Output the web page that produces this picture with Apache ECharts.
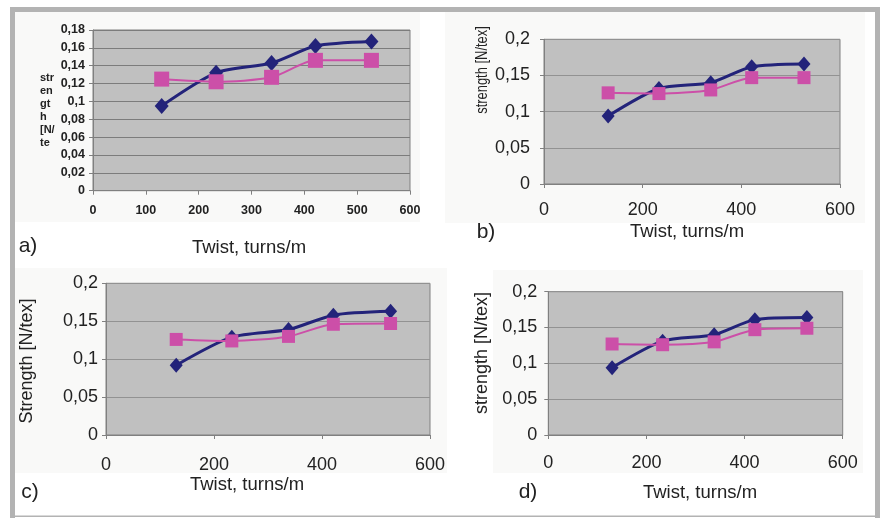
<!DOCTYPE html>
<html>
<head>
<meta charset="utf-8">
<script src="https://cdn.jsdelivr.net/npm/echarts@6/dist/echarts.min.js"></script>
<style>html,body{margin:0;padding:0;background:#fff}#c{width:883px;height:518px}</style>
</head>
<body>
<div id="c"></div>
<script>
// Twist values (turns/m)
const twist = [130, 233, 338, 421, 527];
// Panel a
const aBlue = [0.095, 0.132, 0.143, 0.162, 0.167];
const aPink = [0.125, 0.122, 0.127, 0.146, 0.146];
// Panel b
const bBlue = [0.094, 0.132, 0.140, 0.162, 0.166];
const bPink = [0.126, 0.125, 0.130, 0.147, 0.147];
// Panel c
const cBlue = [0.092, 0.129, 0.139, 0.158, 0.163];
const cPink = [0.126, 0.124, 0.130, 0.146, 0.147];
// Panel d
const dBlue = [0.094, 0.131, 0.140, 0.161, 0.164];
const dPink = [0.127, 0.126, 0.130, 0.147, 0.149];

const panelLetters = ['a)', 'b)', 'c)', 'd)'];
const xName = 'Twist, turns/m';
const yNames = ['str\nen\ngt\nh\n[N/\nte', 'strength [N/tex]', 'Strength [N/tex]', 'strength [N/tex]'];

const FONT = '"Liberation Sans", Arial, Helvetica, sans-serif';
const BLUE = '#23237a';
const PINK = '#cc4fa8';
const fmt = v => v === 0 ? '0' : String(+v.toFixed(2)).replace('.', ',');
const pairs = arr => twist.map((x, i) => [x, arr[i]]);

const grids = [
  {left: 93, top: 30, width: 317, height: 160.7},
  {left: 544, top: 39.3, width: 296, height: 144.7},
  {left: 106, top: 283.3, width: 324, height: 151.7},
  {left: 548.3, top: 291.7, width: 294.4, height: 143.3}
].map(g => Object.assign({show: true, backgroundColor: '#c0c0c0', borderColor: '#808080', borderWidth: 1}, g));

const small = [true, false, false, false];
const yMax = [0.18, 0.2, 0.2, 0.2];
const yInt = [0.02, 0.05, 0.05, 0.05];
const xInt = [100, 200, 200, 200];
const xMargin = [13, 17, 21, 19];
const yMargin = [8, 14, 8, 11];

const xAxis = grids.map((g, i) => ({
  type: 'value', gridIndex: i, min: 0, max: 600, interval: xInt[i],
  axisLine: {show: true, lineStyle: {color: '#808080'}},
  axisTick: {show: true, length: 4, lineStyle: {color: '#808080'}},
  splitLine: {show: false},
  axisLabel: {color: '#222', fontFamily: FONT, fontSize: small[i] ? 12.5 : 18, fontWeight: small[i] ? 'bold' : 'normal', margin: xMargin[i]}
}));
const yAxis = grids.map((g, i) => ({
  type: 'value', gridIndex: i, min: 0, max: yMax[i], interval: yInt[i],
  axisLine: {show: true, lineStyle: {color: '#808080'}},
  axisTick: {show: true, length: 4, lineStyle: {color: '#808080'}},
  splitLine: {show: true, lineStyle: {color: small[i] ? '#7c7c7c' : '#929292', width: 1}},
  axisLabel: {color: '#222', fontFamily: FONT, fontSize: small[i] ? 12.5 : 18, fontWeight: small[i] ? 'bold' : 'normal', margin: yMargin[i], formatter: fmt}
}));

const blues = [aBlue, bBlue, cBlue, dBlue];
const pinks = [aPink, bPink, cPink, dPink];
const series = [];
for (let i = 0; i < 4; i++) {
  series.push({
    type: 'line', xAxisIndex: i, yAxisIndex: i, data: pairs(blues[i]),
    smooth: 0.25, symbol: 'diamond', symbolSize: small[i] ? [14, 16] : [13, 15],
    lineStyle: {color: BLUE, width: 3}, itemStyle: {color: BLUE}, z: 3, animation: false
  });
  series.push({
    type: 'line', xAxisIndex: i, yAxisIndex: i, data: pairs(pinks[i]),
    smooth: 0.25, symbol: 'rect', symbolSize: small[i] ? 15 : 13,
    lineStyle: {color: PINK, width: 2}, itemStyle: {color: PINK}, z: 4, animation: false
  });
}

const FRAME = '#b3b3b3';
const BG = '#f9f9f8';
const txt = (text, x, y, size, opts) => Object.assign({
  type: 'text', x: x, y: y, z: 50,
  style: {text: text, fontSize: size, fontFamily: FONT, fill: '#222', align: 'center', verticalAlign: 'middle'}
}, opts || {});

const graphic = [
  // chart-area backgrounds
  {type: 'rect', z: -100, shape: {x: 15, y: 12, width: 405, height: 210}, style: {fill: BG}},
  {type: 'rect', z: -100, shape: {x: 445, y: 12, width: 420, height: 211}, style: {fill: BG}},
  {type: 'rect', z: -100, shape: {x: 15, y: 268, width: 432, height: 205}, style: {fill: BG}},
  {type: 'rect', z: -100, shape: {x: 493, y: 270, width: 370, height: 203}, style: {fill: BG}},
  // frame
  {type: 'rect', z: 60, shape: {x: 10, y: 7, width: 870, height: 5}, style: {fill: FRAME}},
  {type: 'rect', z: 60, shape: {x: 10, y: 7, width: 5, height: 511}, style: {fill: FRAME}},
  {type: 'rect', z: 60, shape: {x: 875, y: 7, width: 5, height: 511}, style: {fill: FRAME}},
  {type: 'rect', z: 60, shape: {x: 10, y: 515.5, width: 870, height: 1.5}, style: {fill: FRAME}},
  // panel letters
  txt(panelLetters[0], 28, 246, 21),
  txt(panelLetters[1], 486, 232, 21),
  txt(panelLetters[2], 30, 492, 21),
  txt(panelLetters[3], 528, 492, 21),
  // x axis names
  txt(xName, 249, 248, 18.5),
  txt(xName, 687, 232, 18.5),
  txt(xName, 247, 485, 18.5),
  txt(xName, 700, 493, 18.5),
  // y axis names
  {type: 'text', x: 40, y: 110, z: 50, style: {text: yNames[0], fontSize: 11, fontWeight: 'bold', lineHeight: 13, fontFamily: FONT, fill: '#222', align: 'left', verticalAlign: 'middle'}},
  txt(yNames[1], 482, 70, 17, {rotation: Math.PI / 2, scaleX: 0.76}),
  txt(yNames[2], 27, 361, 18, {rotation: Math.PI / 2}),
  txt(yNames[3], 482, 353, 18, {rotation: Math.PI / 2})
];

const chart = echarts.init(document.getElementById('c'), null, {renderer: 'canvas'});
chart.setOption({
  animation: false,
  backgroundColor: '#ffffff',
  grid: grids, xAxis: xAxis, yAxis: yAxis, series: series, graphic: graphic
});
</script>
</body>
</html>
